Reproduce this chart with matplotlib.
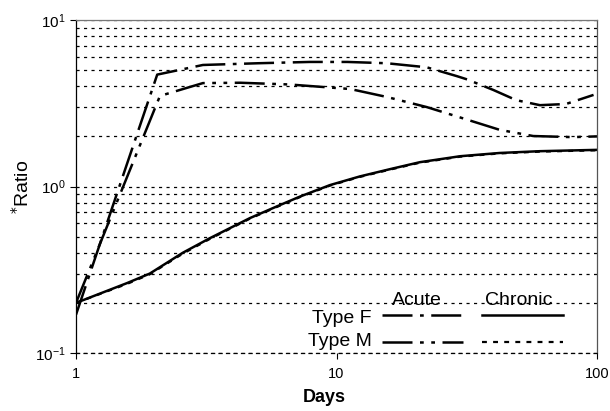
import matplotlib.pyplot as plt
from matplotlib.ticker import LogLocator, FixedLocator, NullFormatter

plt.rcParams['font.family'] = ['Liberation Sans', 'DejaVu Sans']

# 急性期 Type F / Type M（单位: 天, 比值）
acute_f_days = [1, 2.05, 3.07, 5, 7.9, 11, 15.6, 22.2, 29, 31.7, 40, 49, 60.4, 76, 97]
acute_f_ratio = [0.17, 4.7, 5.37, 5.5, 5.6, 5.6, 5.5, 5.2, 4.6, 4.4, 3.8, 3.3, 3.08, 3.13, 3.55]

acute_m_days = [1, 2.1, 3.07, 4.27, 6.6, 11.3, 15.6, 22.2, 29.8, 42.3, 56.9, 80.6, 100]
acute_m_ratio = [0.2, 3.5, 4.18, 4.2, 4.1, 3.85, 3.45, 3.0, 2.6, 2.19, 2.01, 1.98, 2.0]

# 慢性期
chronic_days = [1, 1.57, 1.92, 2.57, 3.27, 4.66, 6.07, 7.24, 9.44, 12.3, 16, 20.9, 29.8, 42.3, 60.4, 100]
chronic_f_ratio = [0.2, 0.263, 0.30, 0.40, 0.49, 0.647, 0.774, 0.87, 1.02, 1.15, 1.27, 1.40, 1.52, 1.59, 1.63, 1.66]
chronic_m_ratio = [0.2, 0.26, 0.297, 0.395, 0.485, 0.642, 0.768, 0.864, 1.013, 1.142, 1.262, 1.39, 1.51, 1.58, 1.62, 1.65]

fig = plt.figure(figsize=(6.1, 4.11), dpi=100)
ax = fig.add_axes([0.1246, 0.1411, 0.8541, 0.8102])

lw = 1.8
dash_f = (12, 3, 1.5, 3)
dash_m = (12, 3, 1.5, 3, 1.5, 3)
dash_chr = (2.2, 2.8)
ax.plot(acute_f_days, acute_f_ratio, color='black', lw=lw, dashes=dash_f)
ax.plot(acute_m_days, acute_m_ratio, color='black', lw=lw, dashes=dash_m)
ax.plot(chronic_days, chronic_m_ratio, color='black', lw=1.6, dashes=dash_chr)
ax.plot(chronic_days, chronic_f_ratio, color='black', lw=lw)

ax.set_xscale('log')
ax.set_yscale('log')
ax.set_xlim(1, 100)
ax.set_ylim(0.1, 10)

ax.xaxis.set_major_locator(FixedLocator([1, 10, 100]))
ax.xaxis.set_major_formatter(plt.FuncFormatter(lambda v, p: f'{v:g}'))
ax.xaxis.set_minor_locator(plt.NullLocator())
ax.yaxis.set_major_locator(LogLocator(base=10))
ax.yaxis.set_minor_locator(LogLocator(base=10, subs=range(2, 10)))
ax.yaxis.set_minor_formatter(NullFormatter())
ax.tick_params(axis='y', which='minor', length=0)
ax.tick_params(axis='both', which='major', length=4, width=0.8, labelsize=11)
ax.tick_params(axis='x', pad=6, labelsize=10.5)

ax.grid(True, axis='y', which='both', color='black', linestyle=(0, (2.5, 3.5)), linewidth=0.9)

for s in ['left', 'right', 'top']:
    ax.spines[s].set_linewidth(0.9)
ax.spines['top'].set_color('#777777')
ax.spines['right'].set_color('#555555')
ax.spines['bottom'].set_linestyle((0, (2.5, 3.5)))
ax.spines['bottom'].set_linewidth(0.9)

# 坐标轴标题
fig.text(0.531, 0.034, 'Days', fontsize=13, fontweight='bold', ha='center', va='center')
fig.text(0.036, 0.545, r'$^{*}$Ratio', fontsize=14, rotation=90, ha='center', va='center')

# 图例
t = ax.transAxes
ax.text(0.655, 0.144, 'Acute', transform=t, fontsize=14, ha='center', va='baseline')
ax.text(0.85, 0.144, 'Chronic', transform=t, fontsize=14, ha='center', va='baseline')
ax.text(0.568, 0.09, 'Type F', transform=t, fontsize=14, ha='right', va='baseline')
ax.text(0.568, 0.021, 'Type M', transform=t, fontsize=14, ha='right', va='baseline')
ax.plot([0.587, 0.743], [0.114, 0.114], transform=t, color='black', lw=lw, dashes=dash_f)
ax.plot([0.587, 0.743], [0.033, 0.033], transform=t, color='black', lw=lw, dashes=dash_m)
ax.plot([0.779, 0.935], [0.114, 0.114], transform=t, color='black', lw=lw)
ax.plot([0.779, 0.935], [0.033, 0.033], transform=t, color='black', lw=1.6, dashes=dash_chr)

fig.savefig('out.png', dpi=100)
